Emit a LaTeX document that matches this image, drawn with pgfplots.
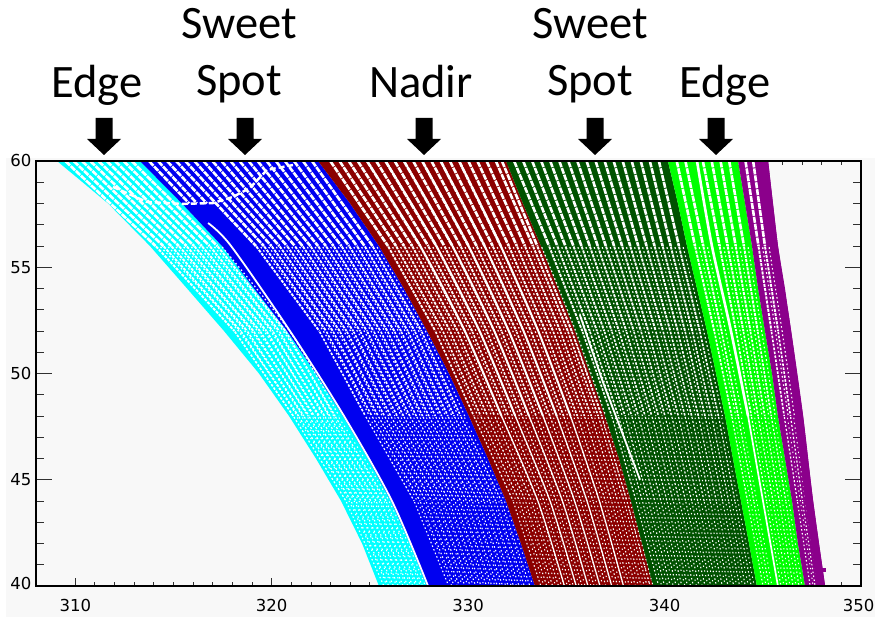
\documentclass[border=0pt]{standalone}
\usepackage{fontspec}
\usepackage{pgfplots}
\usepackage{pgfplotstable}
\pgfplotsset{compat=1.18}
\setmainfont{Carlito}
\newfontfamily\tickfont{DejaVu Sans}
\definecolor{bgc}{HTML}{F8F8F8}
\definecolor{cyanc}{HTML}{00FFFF}
\definecolor{bluec}{HTML}{0000F0}
\definecolor{redc}{HTML}{8B0000}
\definecolor{dgreenc}{HTML}{005200}
\definecolor{greenc}{HTML}{00FF00}
\definecolor{purplec}{HTML}{8B008B}
\definecolor{tickc}{HTML}{303030}

\pgfplotstableread[row sep=\\]{x y\\
309.49 60\\314.09 56\\318.10 52\\321.10 48\\323.78 44\\325.71 40\\nan nan\\
309.91 60\\314.48 56\\318.42 52\\321.36 48\\324.04 44\\325.95 40\\nan nan\\
310.34 60\\314.88 56\\318.75 52\\321.63 48\\324.29 44\\326.20 40\\nan nan\\
310.76 60\\315.27 56\\319.07 52\\321.89 48\\324.55 44\\326.44 40\\nan nan\\
311.18 60\\315.66 56\\319.40 52\\322.16 48\\324.80 44\\326.69 40\\nan nan\\
311.60 60\\316.05 56\\319.73 52\\322.42 48\\325.05 44\\326.93 40\\nan nan\\
312.02 60\\316.44 56\\320.05 52\\322.69 48\\325.31 44\\327.18 40\\nan nan\\
312.45 60\\316.84 56\\320.38 52\\322.95 48\\325.56 44\\327.42 40\\nan nan\\
312.87 60\\317.23 56\\320.70 52\\323.22 48\\325.82 44\\327.67 40\\nan nan\\
}\cyanstripes
\pgfplotstableread[row sep=\\]{x y\\
313.75 60\\315.80 58\\nan nan\\
314.21 60\\316.20 58\\nan nan\\
314.67 60\\316.70 58\\nan nan\\
315.13 60\\319.20 56\\322.42 52\\324.77 48\\327.25 44\\329.01 40\\nan nan\\
315.60 60\\319.60 56\\322.77 52\\325.10 48\\327.55 44\\329.29 40\\nan nan\\
316.06 60\\319.99 56\\323.11 52\\325.42 48\\327.85 44\\329.56 40\\nan nan\\
316.52 60\\320.39 56\\323.46 52\\325.74 48\\328.14 44\\329.84 40\\nan nan\\
316.98 60\\320.78 56\\323.81 52\\326.06 48\\328.44 44\\330.11 40\\nan nan\\
317.44 60\\321.18 56\\324.15 52\\326.39 48\\328.73 44\\330.39 40\\nan nan\\
317.90 60\\321.57 56\\324.50 52\\326.71 48\\329.03 44\\330.66 40\\nan nan\\
318.36 60\\321.97 56\\324.85 52\\327.03 48\\329.33 44\\330.94 40\\nan nan\\
318.82 60\\322.36 56\\325.19 52\\327.36 48\\329.62 44\\331.21 40\\nan nan\\
319.28 60\\322.76 56\\325.54 52\\327.68 48\\329.92 44\\331.49 40\\nan nan\\
319.74 60\\323.15 56\\325.89 52\\328.00 48\\330.21 44\\331.76 40\\nan nan\\
320.21 60\\323.55 56\\326.24 52\\328.33 48\\330.51 44\\332.04 40\\nan nan\\
320.67 60\\323.94 56\\326.58 52\\328.65 48\\330.81 44\\332.31 40\\nan nan\\
321.13 60\\324.34 56\\326.93 52\\328.97 48\\331.10 44\\332.59 40\\nan nan\\
321.59 60\\324.73 56\\327.28 52\\329.29 48\\331.40 44\\332.86 40\\nan nan\\
322.05 60\\325.13 56\\327.62 52\\329.62 48\\331.69 44\\333.14 40\\nan nan\\
}\bluestripes
\pgfplotstableread[row sep=\\]{x y\\
322.98 60\\325.92 56\\328.33 52\\330.29 48\\332.29 44\\333.70 40\\nan nan\\
323.45 60\\326.33 56\\328.71 52\\330.64 48\\332.61 44\\334.00 40\\nan nan\\
323.92 60\\326.74 56\\329.08 52\\330.99 48\\332.92 44\\334.30 40\\nan nan\\
324.38 60\\327.15 56\\329.46 52\\331.35 48\\333.23 44\\334.60 40\\nan nan\\
324.85 60\\327.56 56\\329.83 52\\331.70 48\\333.55 44\\334.90 40\\nan nan\\
325.32 60\\327.97 56\\330.20 52\\332.05 48\\333.86 44\\335.20 40\\nan nan\\
325.79 60\\328.38 56\\330.58 52\\332.40 48\\334.17 44\\335.50 40\\nan nan\\
326.26 60\\328.79 56\\330.95 52\\332.75 48\\334.48 44\\335.80 40\\nan nan\\
326.73 60\\329.20 56\\331.33 52\\333.10 48\\334.80 44\\336.10 40\\nan nan\\
327.20 60\\329.61 56\\331.70 52\\333.46 48\\335.11 44\\336.41 40\\nan nan\\
327.66 60\\330.02 56\\332.07 52\\333.81 48\\335.42 44\\336.71 40\\nan nan\\
328.13 60\\330.43 56\\332.45 52\\334.16 48\\335.74 44\\337.01 40\\nan nan\\
328.60 60\\330.84 56\\332.82 52\\334.51 48\\336.05 44\\337.31 40\\nan nan\\
329.07 60\\331.25 56\\333.20 52\\334.86 48\\336.36 44\\337.61 40\\nan nan\\
329.54 60\\331.66 56\\333.57 52\\335.21 48\\336.68 44\\337.91 40\\nan nan\\
330.01 60\\332.07 56\\333.94 52\\335.56 48\\336.99 44\\338.21 40\\nan nan\\
330.47 60\\332.48 56\\334.32 52\\335.92 48\\337.30 44\\338.51 40\\nan nan\\
330.94 60\\332.89 56\\334.69 52\\336.27 48\\337.61 44\\338.81 40\\nan nan\\
331.41 60\\333.30 56\\335.07 52\\336.62 48\\337.93 44\\339.11 40\\nan nan\\
331.72 60\\333.52 56\\335.27 52\\336.80 48\\338.08 44\\339.26 40\\nan nan\\
}\redstripes
\pgfplotstableread[row sep=\\]{x y\\
324.85 60\\327.56 56\\329.83 52\\331.70 48\\333.55 44\\334.90 40\\nan nan\\
325.79 60\\328.38 56\\330.58 52\\332.40 48\\334.17 44\\335.50 40\\nan nan\\
326.73 60\\329.20 56\\331.33 52\\333.10 48\\334.80 44\\336.10 40\\nan nan\\
327.66 60\\330.02 56\\332.07 52\\333.81 48\\335.42 44\\336.71 40\\nan nan\\
328.60 60\\330.84 56\\332.82 52\\334.51 48\\336.05 44\\337.31 40\\nan nan\\
329.54 60\\331.66 56\\333.57 52\\335.21 48\\336.68 44\\337.91 40\\nan nan\\
}\redbright
\pgfplotstableread[row sep=\\]{x y\\
332.34 60\\334.12 56\\335.81 52\\337.31 48\\338.55 44\\339.70 40\\nan nan\\
332.80 60\\334.54 56\\336.19 52\\337.65 48\\338.87 44\\340.00 40\\nan nan\\
333.26 60\\334.95 56\\336.56 52\\337.99 48\\339.18 44\\340.29 40\\nan nan\\
333.72 60\\335.36 56\\336.93 52\\338.33 48\\339.50 44\\340.59 40\\nan nan\\
334.18 60\\335.77 56\\337.31 52\\338.67 48\\339.81 44\\340.88 40\\nan nan\\
334.64 60\\336.19 56\\337.68 52\\339.01 48\\340.12 44\\341.17 40\\nan nan\\
335.10 60\\336.60 56\\338.05 52\\339.35 48\\340.44 44\\341.47 40\\nan nan\\
335.56 60\\337.01 56\\338.43 52\\339.69 48\\340.75 44\\341.76 40\\nan nan\\
336.03 60\\337.43 56\\338.80 52\\340.02 48\\341.07 44\\342.06 40\\nan nan\\
336.49 60\\337.84 56\\339.17 52\\340.36 48\\341.38 44\\342.35 40\\nan nan\\
336.95 60\\338.25 56\\339.55 52\\340.70 48\\341.69 44\\342.64 40\\nan nan\\
337.41 60\\338.66 56\\339.92 52\\341.04 48\\342.01 44\\342.94 40\\nan nan\\
337.87 60\\339.08 56\\340.29 52\\341.38 48\\342.32 44\\343.23 40\\nan nan\\
338.33 60\\339.49 56\\340.67 52\\341.72 48\\342.63 44\\343.52 40\\nan nan\\
338.79 60\\339.90 56\\341.04 52\\342.06 48\\342.95 44\\343.82 40\\nan nan\\
339.25 60\\340.31 56\\341.41 52\\342.40 48\\343.26 44\\344.11 40\\nan nan\\
339.71 60\\340.73 56\\341.79 52\\342.74 48\\343.58 44\\344.41 40\\nan nan\\
}\dgreenstripes
\pgfplotstableread[row sep=\\]{x y\\
340.62 60\\341.55 56\\342.53 52\\343.42 48\\344.22 44\\345.01 40\\nan nan\\
341.06 60\\341.97 56\\342.90 52\\343.75 48\\344.54 44\\345.31 40\\nan nan\\
341.95 60\\342.80 56\\343.64 52\\344.42 48\\345.19 44\\345.92 40\\nan nan\\
342.40 60\\343.21 56\\344.01 52\\344.76 48\\345.52 44\\346.23 40\\nan nan\\
342.85 60\\343.62 56\\344.37 52\\345.10 48\\345.84 44\\346.54 40\\nan nan\\
343.29 60\\344.04 56\\344.74 52\\345.43 48\\346.17 44\\346.84 40\\nan nan\\
}\greenstripes
\pgfplotstableread[row sep=\\]{x y\\
344.12 60\\344.78 56\\345.44 52\\346.09 48\\346.76 44\\347.41 40\\nan nan\\
344.51 60\\345.11 56\\345.78 52\\346.41 48\\347.02 44\\347.66 40\\nan nan\\
}\purplestripes

\pgfplotsset{tex/.style={white,smooth,tension=0.5,unbounded coords=jump}}
\newcommand{\stripes}[1]{%
  \addplot[tex,line width=2.6pt,dash pattern=on 6pt off 1pt,dash phase=6.5pt,restrict y to domain=56:60] table[x=x,y=y]{#1};
  \addplot[tex,line width=1.9pt,dash pattern=on 3pt off 1.2pt,dash phase=3.6pt,restrict y to domain=52:56] table[x=x,y=y]{#1};
  \addplot[tex,line width=1.6pt,dash pattern=on 2.5pt off 1.5pt,dash phase=3.2pt,restrict y to domain=48:52] table[x=x,y=y]{#1};
  \addplot[tex,line width=1.2pt,dash pattern=on 2pt off 2pt,dash phase=3pt,restrict y to domain=44:48] table[x=x,y=y]{#1};
  \addplot[tex,line width=1.1pt,dash pattern=on 1.5pt off 2.4pt,dash phase=2.7pt,restrict y to domain=40:44] table[x=x,y=y]{#1};
  % in-between scan lines: same track, drawn a few pixels over
  \addplot[tex,xshift=4pt,line width=1.2pt,dash pattern=on 1.6pt off 2.6pt,dash phase=2.9pt,restrict y to domain=48:56] table[x=x,y=y]{#1};
  \addplot[tex,xshift=3pt,line width=1pt,dash pattern=on 1.3pt off 3.6pt,dash phase=3.1pt,restrict y to domain=40:48] table[x=x,y=y]{#1};
}
\newcommand{\arr}[1]{%
  \fill[black] (#1pt-8.5pt,499pt) -- (#1pt+8.5pt,499pt) -- (#1pt+8.5pt,478pt) -- (#1pt+17pt,478pt) -- (#1pt,462pt) -- (#1pt-17pt,478pt) -- (#1pt-8.5pt,478pt) -- cycle;
}
\newcommand{\lab}[3]{\node[anchor=base,inner sep=0pt,font=\fontsize{46.5}{50}\selectfont] at (#1pt,#2pt) {#3};}

\begin{document}
\begin{tikzpicture}[x=1pt,y=1pt]
\path[use as bounding box] (0,0) rectangle (875pt,617pt);
\fill[bgc] (6pt,0) rectangle (875pt,459pt);
\begin{axis}[
  at={(36pt,31pt)},anchor=south west,
  width=825pt,height=425pt,scale only axis,
  xmin=308,xmax=350,ymin=40,ymax=60,
  xtick={310,320,330,340,350},
  xticklabels={310,320,330,340,\hspace*{-5pt}350},
  minor x tick num=9,
  ytick=\empty,
  tick align=inside,
  major tick length=8pt,minor tick length=4pt,
  every tick/.style={tickc,line width=0.9pt},
  axis line style={line width=1.1pt},
  xticklabel style={font=\tickfont\fontsize{16.5}{17}\selectfont,yshift=-10pt},
  clip=true
]
% bands
\addplot[fill=cyanc,draw=none] coordinates {(309.07,60)(311.67,58)(313.80,56)(315.69,54)(317.57,52)(319.35,50)(320.88,48)(322.25,46)(323.53,44)(324.60,42)(325.46,40)(327.91,40)(327.04,42)(326.07,44)(324.90,46)(323.63,48)(322.25,50)(320.78,52)(319.10,54)(317.47,56)(315.43,58)(313.29,60)} -- cycle;
\addplot[fill=bluec,draw=none] coordinates {(313.29,60)(315.43,58)(317.47,56)(319.10,54)(320.78,52)(322.25,50)(323.63,48)(324.90,46)(326.07,44)(327.04,42)(327.91,40)(333.40,40)(332.69,42)(331.93,44)(331.01,46)(330.04,48)(329.03,50)(327.91,52)(326.73,54)(325.46,56)(323.99,58)(322.36,60)} -- cycle;
\addplot[fill=redc,draw=none] coordinates {(322.36,60)(323.99,58)(325.46,56)(326.73,54)(327.91,52)(329.03,50)(330.04,48)(331.01,46)(331.93,44)(332.69,42)(333.40,40)(339.41,40)(338.85,42)(338.29,44)(337.68,46)(336.97,48)(336.20,50)(335.44,52)(334.58,54)(333.71,56)(332.79,58)(331.93,60)} -- cycle;
\addplot[fill=dgreenc,draw=none] coordinates {(331.93,60)(332.79,58)(333.71,56)(334.58,54)(335.44,52)(336.20,50)(336.97,48)(337.68,46)(338.29,44)(338.85,42)(339.41,40)(344.70,40)(344.30,42)(343.89,44)(343.48,46)(343.08,48)(342.62,50)(342.16,52)(341.65,54)(341.14,56)(340.68,58)(340.17,60)} -- cycle;
\addplot[fill=greenc,draw=none] coordinates {(340.17,60)(340.68,58)(341.14,56)(341.65,54)(342.16,52)(342.62,50)(343.08,48)(343.48,46)(343.89,44)(344.30,42)(344.70,40)(347.15,40)(346.79,42)(346.49,44)(346.13,46)(345.77,48)(345.47,50)(345.11,52)(344.76,54)(344.45,56)(344.10,58)(343.74,60)} -- cycle;
\addplot[fill=purplec,draw=none] coordinates {(343.74,60)(344.10,58)(344.45,56)(344.76,54)(345.11,52)(345.47,50)(345.77,48)(346.13,46)(346.49,44)(346.79,42)(347.15,40)(348.17,40)(347.86,42)(347.56,44)(347.30,46)(347.05,48)(346.74,50)(346.44,52)(346.13,54)(345.77,56)(345.52,58)(345.27,60)} -- cycle;
% scan-line texture
\stripes{\cyanstripes}
\stripes{\bluestripes}
\stripes{\redstripes}
\stripes{\dgreenstripes}
\stripes{\greenstripes}
\stripes{\purplestripes}
% re-lay the solid parts of the swaths
\addplot[bluec,smooth,tension=0.5,line width=8.5pt] coordinates {(316.2,58)(318.4,56)(321.4,52)(324.13,48)(326.57,44)(328.41,40)};
\addplot[purplec,smooth,tension=0.5,line width=8pt] coordinates {(345.07,60)(345.57,56)(346.24,52)(346.85,48)(347.36,44)(347.97,40)};
% bright gaps
\addplot[white,smooth,tension=0.5,line width=1.9pt,restrict y to domain=48:60,unbounded coords=jump] table[x=x,y=y]{\redbright};
\addplot[white,smooth,tension=0.5,line width=1.2pt,restrict y to domain=40:48,unbounded coords=jump] table[x=x,y=y]{\redbright};
\addplot[white,smooth,tension=0.5,line width=1.8pt] coordinates {(316.76,57.08)(317.93,56)(320.93,52)(323.68,48)(326.12,44)(327.96,40)};
\addplot[white,line width=1.8pt] coordinates {(335.69,52.75)(336.86,49.6)(338.75,45)};
\addplot[white,smooth,tension=0.5,line width=2.6pt] coordinates {(341.65,60)(342.41,56)(343.38,52)(344.25,48)};
\addplot[white,line width=1.7pt] coordinates {(344.25,48)(345.01,44)(345.77,40)};
\addplot[white,line width=2.4pt,dash pattern=on 6pt off 3pt] coordinates {(311.92,58.78)(313.65,58.07)(315.43,57.98)(317.01,58.02)(318.03,58.31)(318.89,58.73)(319.76,59.58)(321.08,59.81)};
\addplot[only marks,mark=square*,mark size=1.5pt,color=purplec] coordinates {(348.12,40.75)};
\end{axis}
\begin{axis}[
  at={(36pt,31pt)},anchor=south west,
  width=825pt,height=425pt,scale only axis,
  xmin=308,xmax=350,ymin=40,ymax=60,
  xtick=\empty,
  ytick={40,45,50,55,60},
  yticklabels={\raisebox{6pt}{40},45,50,55,\raisebox{-7pt}{60}},
  minor y tick num=4,
  tick align=inside,
  major tick length=16pt,minor tick length=8pt,
  every tick/.style={tickc,line width=0.9pt},
  axis line style={line width=1.1pt},
  yticklabel style={font=\tickfont\fontsize{16.5}{17}\selectfont,xshift=-1pt}
]
\end{axis}
\lab{97}{519}{Edge}
\lab{239}{578}{Sweet}
\lab{239}{521}{Spot}
\lab{421}{519}{Nadir}
\lab{590}{578}{Sweet}
\lab{590}{521}{Spot}
\lab{725}{519}{Edge}
\arr{104}
\arr{245}
\arr{424}
\arr{595}
\arr{716}
\end{tikzpicture}
\end{document}
